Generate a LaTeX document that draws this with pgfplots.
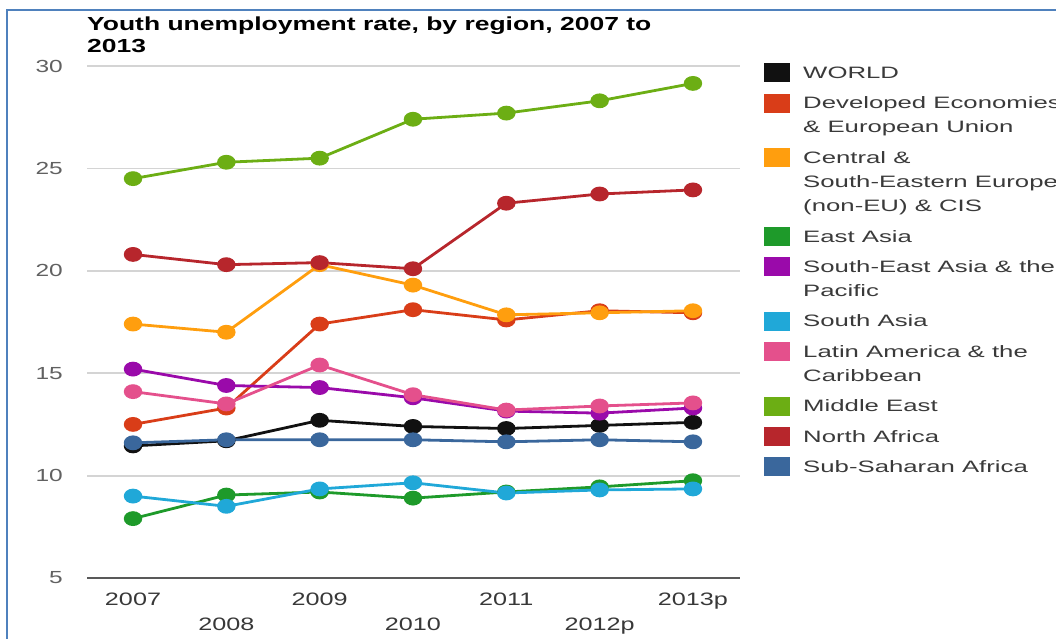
\documentclass[border=0pt]{standalone}
\usepackage{pgfplots}
\usepackage{pgfplotstable}
\pgfplotsset{compat=1.18}
\usepackage{fontspec}
\setmainfont{Liberation Sans}[FakeStretch=1.4]
\newfontfamily\legfont{Liberation Sans}[FakeStretch=1.56]

\definecolor{cWorld}{HTML}{111111}
\definecolor{cDev}{HTML}{D93D18}
\definecolor{cCSE}{HTML}{FF9E0E}
\definecolor{cEA}{HTML}{1E9A2A}
\definecolor{cSEA}{HTML}{9A0AAA}
\definecolor{cSA}{HTML}{20A8D8}
\definecolor{cLAC}{HTML}{E4508C}
\definecolor{cME}{HTML}{6CAE14}
\definecolor{cNA}{HTML}{B7262C}
\definecolor{cSSA}{HTML}{3A679C}
\definecolor{frameblue}{HTML}{4F81BD}
\definecolor{gridgray}{HTML}{D4D4D4}
\definecolor{txtgray}{HTML}{3A3A3A}

% x: 0 = 2007 ... 6 = 2013p
\pgfplotstableread{
x world dev cse ea sea sa lac me na ssa
0 11.45 12.5 17.4 7.9 15.2 9.0 14.1 24.5 20.8 11.6
1 11.7 13.3 17.0 9.05 14.4 8.5 13.5 25.3 20.3 11.75
2 12.7 17.4 20.3 9.2 14.3 9.35 15.4 25.5 20.4 11.75
3 12.4 18.1 19.3 8.9 13.8 9.65 13.95 27.4 20.1 11.75
4 12.3 17.6 17.85 9.2 13.15 9.15 13.2 27.7 23.3 11.65
5 12.45 18.05 17.95 9.45 13.05 9.3 13.4 28.3 23.75 11.75
6 12.6 17.95 18.05 9.75 13.3 9.35 13.55 29.15 23.95 11.65
}\data

% legend rows: first line of an entry / continuation line
\tikzset{fl/.style={text height=24.3pt, text depth=6pt},
         cl/.style={text height=18.3pt, text depth=6pt}}
\newcommand\more[1]{\addlegendimage{empty legend}\addlegendentry[cl]{#1}}

\begin{document}
\begin{tikzpicture}
\path[use as bounding box] (0,0) rectangle (1056pt,638pt);
\draw[frameblue, line width=2pt] (7pt,-5pt) -- (7pt,628pt) -- (1070pt,628pt);
\node[anchor=north west, inner sep=0pt, align=left,
      font=\bfseries\fontsize{18.9}{22}\selectfont] at (87pt,621pt)
  {Youth unemployment rate, by region, 2007 to\\2013};
\begin{axis}[
    at={(87pt,60pt)}, anchor=south west,
    scale only axis, width=653pt, height=512pt,
    xmin=-0.493, xmax=6.504, ymin=5, ymax=30,
    ytick={5,10,...,30},
    xtick={0,2,4,6}, xticklabels={2007,2009,2011,2013p},
    extra x ticks={1,3,5}, extra x tick labels={2008,2010,2012p},
    extra x tick style={xticklabel style={yshift=-25pt}},
    axis x line*=bottom, axis y line*=left,
    y axis line style={draw=none},
    x axis line style={-, draw=black!65, line width=2pt},
    major tick length=0pt,
    ymajorgrids, grid style={gridgray, line width=1.8pt},
    /pgf/number format/assume math mode=true,
    yticklabel style={anchor=east, inner sep=0pt, xshift=-24pt,
      text=black!62, font=\fontsize{17.5}{20}\selectfont},
    xticklabel style={anchor=north, inner sep=0pt, yshift=-15pt,
      text=black!78, font=\fontsize{18}{20}\selectfont},
    every axis plot/.append style={line width=2.8pt, mark=*,
      mark size=6pt, mark options={xscale=1.3}},
    legend image code/.code={\fill[draw=none] (0pt,-4pt) rectangle (26pt,15pt);},
    legend style={at={(1.0368,1.024)}, anchor=north west, draw=none,
      fill=none, inner sep=0pt, row sep=0pt, column sep=13pt,
      font=\legfont\fontsize{16.5}{20}\selectfont, text=txtgray,
      nodes={inner sep=0pt}, cells={anchor=base west}},
    clip=false,
  ]
  \addplot[cWorld] table[y=world] {\data}; \addlegendentry[fl]{WORLD}
  \addplot[cDev] table[y=dev] {\data}; \addlegendentry[fl]{Developed Economies}
  \more{\& European Union}
  \addplot[cCSE] table[y=cse] {\data}; \addlegendentry[fl]{Central \&}
  \more{South-Eastern Europe}
  \more{(non-EU) \& CIS}
  \addplot[cEA] table[y=ea] {\data}; \addlegendentry[fl]{East Asia}
  \addplot[cSEA] table[y=sea] {\data}; \addlegendentry[fl]{South-East Asia \& the}
  \more{Pacific}
  \addplot[cSA] table[y=sa] {\data}; \addlegendentry[fl]{South Asia}
  \addplot[cLAC] table[y=lac] {\data}; \addlegendentry[fl]{Latin America \& the}
  \more{Caribbean}
  \addplot[cME] table[y=me] {\data}; \addlegendentry[fl]{Middle East}
  \addplot[cNA] table[y=na] {\data}; \addlegendentry[fl]{North Africa}
  \addplot[cSSA] table[y=ssa] {\data}; \addlegendentry[fl]{Sub-Saharan Africa}
\end{axis}
\end{tikzpicture}
\end{document}
